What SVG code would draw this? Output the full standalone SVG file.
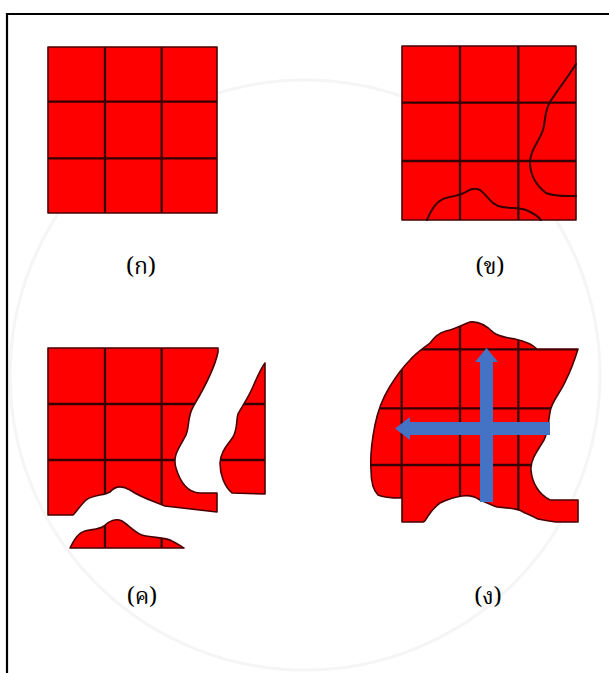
<svg xmlns="http://www.w3.org/2000/svg" width="609" height="673" viewBox="0 0 609 673">
<style>
.red{fill:#ff0000;stroke:#4a0000;stroke-width:1.6;stroke-linejoin:round}
.grid{stroke:#350000;stroke-width:2.3;fill:none}
.curve{stroke:#350000;stroke-width:2;fill:none;stroke-linecap:round;stroke-linejoin:round}
.blue{fill:#4472c4}
.lbl{font-family:'Noto Serif Thai','Noto Sans Thai','Garuda','Loma','DejaVu Serif',serif;font-size:23px;fill:#000;text-anchor:middle}
</style>
<defs>
<clipPath id="clipC">
<path d="M48,348 L218,348 L218,352 C214,372 200,395 193,407 C187,418 190,425 186,435 C180,447 172,455 176,468 C180,482 188,493 200,493 L217,493 L217,512 L165,506 C150,500 140,497 130,490 C123,486 116,485 110,492 C103,496 94,494 86,500 C80,506 76,512 73,515 L48,515 Z"/>
<path d="M265,363 L265,494 L232,493 C224,486 220,474 220,463 C221,450 228,445 233,437 C238,428 236,420 238,414 C243,405 250,395 255,382 C259,373 262,367 265,363 Z"/>
<path d="M70,548 C74,540 78,533 85,531 C92,529 98,530 104,526 C109,521 116,518 122,521 C130,526 134,532 142,535 C152,538 165,537 172,541 C178,544 182,547 184,548 Z"/>
</clipPath>
<clipPath id="clipD">
<path id="dshape" d="M430,343 C434,338 438,333 446,331 C455,329 462,325 470,322 C478,321 487,326 494,333 C500,337 508,338 515,339 C524,341 532,344 537,349 L578,349 C574,362 570,372 566,380 C560,394 552,400 550,412 C548,424 548,432 544,440 C538,450 530,460 531,470 C532,482 538,494 550,500 L578,500 L578,522 L556,522 C548,521 543,520 538,519 C532,516 528,514 525,513 C518,508 508,508 497,507 C490,505 486,502 480,500 C474,496 468,495 462,496 C454,497 446,500 440,503 C434,507 431,512 428,516 C426,519 425,522 423,522 L402,522 L402,498 C392,498 384,498 378,495 C373,490 371,482 371,470 C370,455 372,440 375,425 C378,410 383,398 389,388 C395,378 402,368 410,360 C417,352 424,348 430,343 Z"/>
</clipPath>
</defs>
<rect width="609" height="673" fill="#fff"/>
<circle cx="305" cy="375" r="295" fill="none" stroke="#f5f5f5" stroke-width="3"/>
<g id="border"><path d="M7,673 V14 H609" fill="none" stroke="#000" stroke-width="2.2"/></g>

<g id="panel-a">
<rect class="red" x="48" y="47" width="169" height="166"/>
<path class="grid" d="M105,47 V213 M161.7,47 V213 M48,101.7 H217 M48,158.3 H217"/>
<text class="lbl" x="141" y="274">(ก)</text>
</g>

<g id="panel-b">
<rect class="red" x="402" y="46" width="174" height="174"/>
<path class="grid" d="M460,46 V220 M518.3,46 V220 M402,102.7 H576 M402,161 H576"/>
<path class="curve" d="M576,64 C566,80 556,92 550,102 C544,112 546,120 543,130 C539,142 530,150 530,162 C530,175 537,186 546,193 C556,197 566,196 576,196"/>
<path class="curve" d="M427,220 C431,210 437,200 446,198 C453,196 458,196 464,193 C469,190 474,187 480,190 C487,195 490,203 498,206 C508,209 518,207 526,210 C533,213 538,216 541,220"/>
<text class="lbl" x="490" y="274">(ข)</text>
</g>

<g id="panel-c">
<g clip-path="url(#clipC)">
<rect x="40" y="340" width="240" height="220" fill="#ff0000"/>
<path class="grid" d="M105,340 V560 M161.7,340 V560 M40,404 H280 M40,460 H280"/>
</g>
<path fill="none" stroke="#4a0000" stroke-width="1.6" stroke-linejoin="round" d="M48,348 L218,348 L218,352 C214,372 200,395 193,407 C187,418 190,425 186,435 C180,447 172,455 176,468 C180,482 188,493 200,493 L217,493 L217,512 L165,506 C150,500 140,497 130,490 C123,486 116,485 110,492 C103,496 94,494 86,500 C80,506 76,512 73,515 L48,515 Z M265,363 L265,494 L232,493 C224,486 220,474 220,463 C221,450 228,445 233,437 C238,428 236,420 238,414 C243,405 250,395 255,382 C259,373 262,367 265,363 Z M70,548 C74,540 78,533 85,531 C92,529 98,530 104,526 C109,521 116,518 122,521 C130,526 134,532 142,535 C152,538 165,537 172,541 C178,544 182,547 184,548 Z"/>
<text class="lbl" x="142" y="604">(ค)</text>
</g>

<g id="panel-d">
<g clip-path="url(#clipD)">
<rect x="365" y="315" width="220" height="215" fill="#ff0000"/>
<path class="grid" d="M401.7,315 V530 M460,315 V530 M518.3,315 V530 M365,349.3 H585 M365,408.3 H585 M365,465 H585"/>
</g>
<use href="#dshape" fill="none" stroke="#4a0000" stroke-width="1.6" stroke-linejoin="round"/>
<polygon class="blue" points="480,362 475,362 486.5,348 498,362 493,362 493,502 480,502"/>
<polygon class="blue" points="410,422 410,417 395,428.5 410,440 410,435 550,435 550,422"/>
<text class="lbl" x="488" y="604">(ง)</text>
</g>
</svg>
